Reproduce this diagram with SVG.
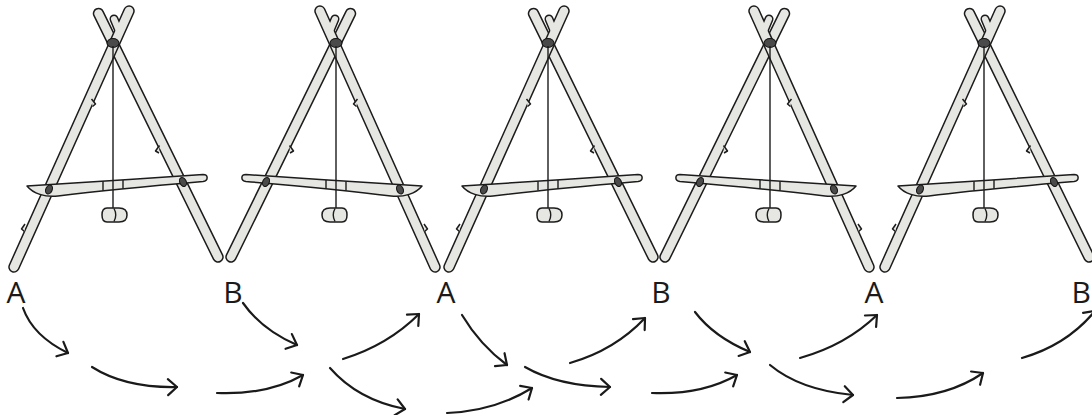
<svg xmlns="http://www.w3.org/2000/svg" width="1092" height="415" viewBox="0 0 1092 415">
  <style>
    .stick-o { fill: none; stroke: #1c1c1c; stroke-width: 11.5; stroke-linecap: round; }
    .stick-i { fill: none; stroke: #e6e6e2; stroke-width: 8.5; stroke-linecap: round; }
    .prong-o { fill: none; stroke: #1c1c1c; stroke-width: 9; stroke-linecap: round; }
    .prong-i { fill: none; stroke: #e6e6e2; stroke-width: 6; stroke-linecap: round; }
    .wood { fill: #e6e6e2; stroke: #1c1c1c; stroke-width: 1.5; stroke-linejoin: round; }
    .line { fill: none; stroke: #1c1c1c; stroke-width: 1.4; }
    .lash { fill: #4a4a4a; stroke: #151515; stroke-width: 1.1; }
    .conn { fill: none; stroke: #1a1a1a; stroke-width: 2.2; stroke-linecap: round; marker-end: url(#arrow); }
    .lbl { font-family: "Open Sans", "Liberation Sans", sans-serif; font-size: 30px; fill: #1a1a1a; text-anchor: middle; }
  </style>
  <defs>
    <marker id="arrow" viewBox="-12 -10 14 20" refX="0" refY="0" markerWidth="14" markerHeight="20" markerUnits="userSpaceOnUse" orient="auto">
      <path d="M-9,-8 L0,0 L-9,8" fill="none" stroke="#1a1a1a" stroke-width="2.2" stroke-linecap="round" stroke-linejoin="round"/>
    </marker>
    <!-- A-frame tripod: two crossed poles, a cross bar, a plumb line with bob -->
    <g id="aframe">
      <!-- right pole (runs up past the lashing to the left tip) -->
      <line class="stick-o" x1="218" y1="257" x2="98.5" y2="13.5"/>
      <line class="stick-i" x1="218" y1="257" x2="98.5" y2="13.5"/>
      <!-- left pole with forked top -->
      <line class="stick-o" x1="14" y1="267" x2="129" y2="11"/>
      <line class="prong-o" x1="119" y1="31" x2="114" y2="19"/>
      <line class="stick-i" x1="14" y1="267" x2="129" y2="11"/>
      <line class="prong-i" x1="119" y1="31" x2="114" y2="19"/>
      <!-- knots on the poles -->
      <path class="wood" d="M91.5,99 L95.5,104 L92.5,106.5"/>
      <path class="wood" d="M159.5,145.5 L155.5,151 L159,153"/>
      <path class="wood" d="M25,224 L21.5,229 L24.5,231.5"/>
      <!-- apex lashing -->
      <ellipse class="lash" cx="113" cy="43" rx="6" ry="4.5"/>
      <!-- plumb line -->
      <line class="line" x1="113" y1="46" x2="113" y2="208"/>
      <!-- cross bar -->
      <path class="wood" d="M27,186 C60,184 150,178 203,174.5 C208.5,174.5 208.5,180.5 203,181.5 C150,186 90,192 58,196 C45,197.5 33,193.5 27,186 Z"/>
      <!-- sleeve on the bar where the line passes -->
      <line class="line" x1="103" y1="181.3" x2="103" y2="190.6"/>
      <line class="line" x1="123" y1="180" x2="123" y2="188.8"/>
      <line class="line" x1="113" y1="180.6" x2="113" y2="189.8"/>
      <!-- bar lashings -->
      <ellipse class="lash" cx="49" cy="189.5" rx="3.2" ry="4.6" transform="rotate(24 49 189.5)"/>
      <ellipse class="lash" cx="183" cy="182" rx="3.2" ry="4.6" transform="rotate(-26 183 182)"/>
      <!-- plumb bob -->
      <path class="wood" d="M107,208 H119 Q127,208 127,215 Q127,222 119,222 H107 Q102,222 102,215 Q102,208 107,208 Z"/>
      <path class="line" d="M114,208.5 Q117.5,215 114,221.5"/>
    </g>
  </defs>

  <rect width="1092" height="415" fill="#ffffff"/>

  <g id="frame-1"><use href="#aframe"/></g>
  <g id="frame-2"><use href="#aframe" transform="translate(449,0) scale(-1,1)"/></g>
  <g id="frame-3"><use href="#aframe" transform="translate(435,0)"/></g>
  <g id="frame-4"><use href="#aframe" transform="translate(883,0) scale(-1,1)"/></g>
  <g id="frame-5"><use href="#aframe" transform="translate(871,0)"/></g>

  <g id="label-a1"><text class="lbl" x="16" y="303">A</text></g>
  <g id="label-b1"><text class="lbl" x="233" y="303">B</text></g>
  <g id="label-a2"><text class="lbl" x="446" y="303">A</text></g>
  <g id="label-b2"><text class="lbl" x="661" y="303">B</text></g>
  <g id="label-a3"><text class="lbl" x="874" y="303">A</text></g>
  <g id="label-b3"><text class="lbl" x="1091" y="303" style="text-anchor:end">B</text></g>

  <g id="connectors">
    <path class="conn" d="M23,308 Q33,336 68,353"/>
    <path class="conn" d="M92,367 Q125,388 177,387"/>
    <path class="conn" d="M217,393 Q268,395 303,375"/>
    <path class="conn" d="M243,303 Q262,330 297,345"/>
    <path class="conn" d="M343,359 Q388,345 419,314"/>
    <path class="conn" d="M330,368 Q358,400 405,409"/>
    <path class="conn" d="M447,413 Q495,411 532,388"/>
    <path class="conn" d="M462,315 Q480,345 507,365"/>
    <path class="conn" d="M525,367 Q558,386 610,387"/>
    <path class="conn" d="M570,363 Q615,350 645,318"/>
    <path class="conn" d="M652,393 Q702,395 737,375"/>
    <path class="conn" d="M695,312 Q714,337 750,352"/>
    <path class="conn" d="M770,365 Q800,390 853,395"/>
    <path class="conn" d="M800,358 Q846,345 877,315"/>
    <path class="conn" d="M897,398 Q948,397 983,373"/>
    <path class="conn" d="M1022,358 Q1067,345 1095,311"/>
  </g>
</svg>
